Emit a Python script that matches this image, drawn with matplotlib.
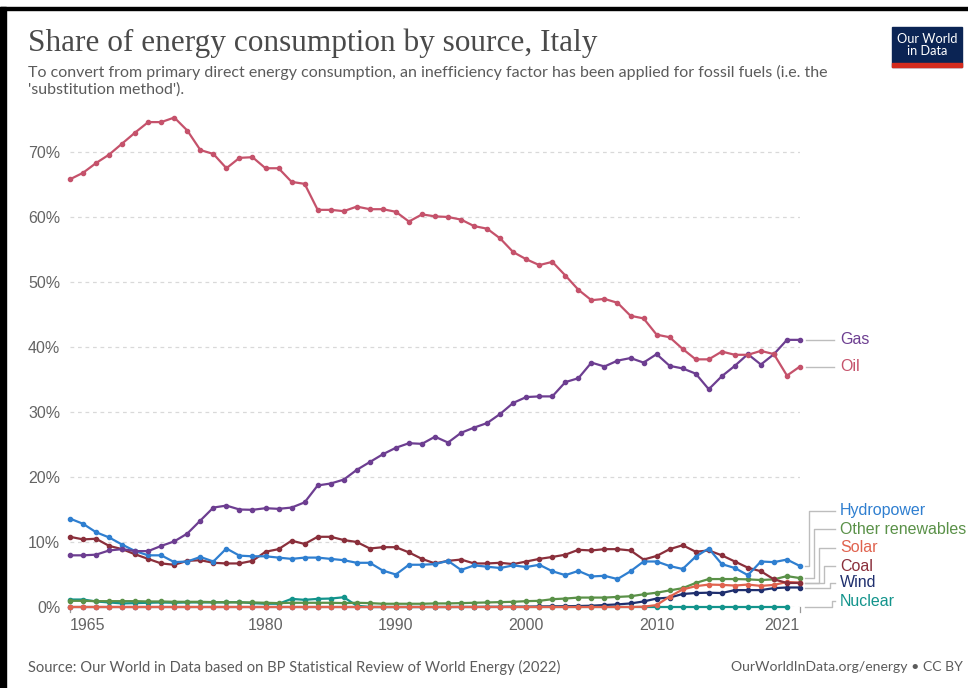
"""Share of energy consumption by source, Italy (OWID style line chart)."""
import numpy as np
import matplotlib.pyplot as plt
from matplotlib import transforms
from matplotlib.patches import Rectangle

W, H = 968, 688

years = np.arange(1965, 2022)

oil = [65.8, 66.8, 68.3, 69.6, 71.3, 73.0, 74.6, 74.6, 75.3, 73.3,
       70.3, 69.7, 67.5, 69.1, 69.2, 67.5, 67.5, 65.4, 65.1, 61.1,
       61.1, 60.9, 61.6, 61.2, 61.2, 60.8, 59.3, 60.4, 60.1, 60.0,
       59.6, 58.6, 58.2, 56.7, 54.6, 53.5, 52.6, 53.1, 51.0, 48.8,
       47.2, 47.4, 46.8, 44.8, 44.4, 41.9, 41.5, 39.7, 38.1, 38.1,
       39.3, 38.8, 38.8, 39.4, 38.9, 35.6, 37.0]
gas = [7.95, 7.95, 8.05, 8.7, 8.9, 8.6, 8.6, 9.4, 10.1, 11.3,
       13.3, 15.3, 15.6, 15.0, 14.95, 15.2, 15.1, 15.3, 16.1, 18.7,
       19.0, 19.6, 21.1, 22.3, 23.5, 24.5, 25.2, 25.1, 26.2, 25.3,
       26.8, 27.6, 28.3, 29.7, 31.4, 32.3, 32.4, 32.4, 34.6, 35.2,
       37.6, 37.0, 37.9, 38.3, 37.6, 38.9, 37.1, 36.7, 35.9, 33.5,
       35.5, 37.1, 38.9, 37.3, 38.9, 41.1, 41.1]
hydro = [13.6, 12.8, 11.5, 10.7, 9.6, 8.6, 7.95, 7.95, 6.9, 7.0,
         7.7, 7.0, 9.0, 7.9, 7.8, 7.8, 7.6, 7.4, 7.6, 7.6,
         7.4, 7.2, 6.8, 6.8, 5.6, 5.0, 6.5, 6.5, 6.6, 7.1,
         5.7, 6.4, 6.2, 6.0, 6.4, 6.15, 6.5, 5.5, 4.9, 5.55,
         4.7, 4.8, 4.3, 5.5, 7.0, 7.0, 6.3, 5.85, 7.75, 9.0,
         6.6, 6.0, 4.9, 7.0, 6.9, 7.3, 6.3]
coal = [10.8, 10.4, 10.5, 9.4, 8.9, 8.1, 7.4, 6.7, 6.5, 7.1,
        7.2, 6.8, 6.7, 6.7, 7.1, 8.5, 8.9, 10.2, 9.7, 10.8,
        10.8, 10.3, 10.0, 9.0, 9.2, 9.2, 8.4, 7.4, 6.7, 7.1,
        7.3, 6.7, 6.7, 6.8, 6.6, 7.0, 7.4, 7.7, 8.05, 8.8,
        8.7, 8.9, 8.9, 8.7, 7.3, 7.85, 8.9, 9.5, 8.5, 8.7,
        7.95, 7.0, 6.05, 5.5, 4.25, 3.7, 3.7]
other_renew = [0.95, 0.95, 0.9, 0.9, 0.9, 0.9, 0.85, 0.85, 0.8, 0.8,
               0.8, 0.75, 0.75, 0.7, 0.7, 0.65, 0.6, 0.65, 0.65, 0.65,
               0.65, 0.6, 0.65, 0.6, 0.5, 0.5, 0.5, 0.5, 0.55, 0.55,
               0.6, 0.65, 0.7, 0.75, 0.8, 0.9, 0.95, 1.2, 1.3, 1.45,
               1.45, 1.45, 1.55, 1.65, 1.95, 2.2, 2.55, 2.9, 3.7, 4.3,
               4.3, 4.3, 4.25, 4.15, 4.25, 4.75, 4.45]
solar = [0.0] * 44 + [0.05, 0.3, 1.6, 2.7, 3.2, 3.45, 3.4, 3.3, 3.45,
                      3.25, 3.4, 3.85, 3.75]
wind = [0.0] * 30 + [0.01, 0.01, 0.03, 0.03, 0.05,
                     0.05, 0.08, 0.1, 0.12, 0.15, 0.2, 0.3, 0.4, 0.55, 0.85,
                     1.3, 1.45, 2.0, 2.15, 2.2, 2.15, 2.6, 2.6, 2.6, 2.9,
                     3.0, 3.0]
nuclear = [1.15, 1.15, 0.85, 0.7, 0.55, 0.6, 0.65, 0.7, 0.65, 0.7,
           0.7, 0.7, 0.7, 0.75, 0.6, 0.5, 0.5, 1.25, 1.1, 1.25,
           1.3, 1.5, 0.2] + [0.0] * 33 + [np.nan]

# name, values, colour, label y (%), connector elbow (px)
series = [
    ("Wind", wind, "#1f2f6e", 3.7, 830),
    ("Nuclear", nuclear, "#13948c", 0.9, 832),
    ("Other renewables", other_renew, "#5a9148", 12.0, 814),
    ("Solar", solar, "#e0634f", 9.1, 819),
    ("Coal", coal, "#8a2f3b", 6.3, 824),
    ("Hydropower", hydro, "#2f7fd0", 14.8, 809),
    ("Gas", gas, "#6d3e91", 40.9, None),
    ("Oil", oil, "#c5526b", 36.9, None),
]

SANS = ["Liberation Sans", "DejaVu Sans"]
LATO = ["Lato", "DejaVu Sans"]
GREY = "#646464"

fig = plt.figure(figsize=(W / 100, H / 100), dpi=100)
ax = fig.add_axes([70 / W, 81 / H, 730 / W, 494 / H])

for name, vals, col, _, _ in series:
    ax.plot(years, vals, "-o", color=col, lw=1.6, ms=3.0, clip_on=False,
            zorder=3)

ax.set_xlim(1965, 2021)
ax.set_ylim(0, 76)
ax.set_yticks(range(0, 71, 10))
ax.set_yticklabels([f"{v}%" for v in range(0, 71, 10)], family=SANS,
                   fontsize=11.5, color=GREY)
ax.grid(axis="y", color="#d9d9d9", lw=0.9, ls=(0, (3, 3)))
ax.tick_params(axis="y", length=0, pad=7)
ax.set_xticks([1965, 1980, 1990, 2000, 2010, 2021])
ax.set_xticklabels(["1965", "1980", "1990", "2000", "2010", "2021"],
                   family=SANS, fontsize=11.5, color=GREY)
for lab, ha in zip(ax.get_xticklabels(), ["left"] + ["center"] * 4 + ["right"]):
    lab.set_ha(ha)
ax.tick_params(axis="x", length=0, pad=8)
for x in (1965, 2021):
    ax.plot([x, x], [0, -0.8], color="#999999", lw=0.9, clip_on=False)
for s in ax.spines.values():
    s.set_visible(False)

# right-hand labels with elbow connectors
tr = transforms.blended_transform_factory(ax.transAxes, ax.transData)
def px(x):
    return (x - 70) / 730

for name, vals, col, ly, elbow in series:
    y0 = vals[-1] if not np.isnan(vals[-1]) else 0.0
    if elbow is None:
        xs, ys = [px(806), px(834)], [y0, y0]
    else:
        xs = [px(805), px(elbow), px(elbow), px(835)]
        ys = [y0, y0, ly, ly]
    ax.plot(xs, ys, color="#bdbdbd", lw=1, transform=tr, clip_on=False)
    ax.text(px(840), ly if elbow else y0, name, transform=tr, color=col,
            family=SANS, fontsize=11.5, va="center", ha="left")

# titles
fig.text(28 / W, 1 - 43 / H, "Share of energy consumption by source, Italy",
         family=["Liberation Serif", "DejaVu Serif"], fontsize=22.5,
         color="#4a4a4a", va="center", ha="left")
fig.text(28 / W, 1 - 72 / H,
         "To convert from primary direct energy consumption, an inefficiency "
         "factor has been applied for fossil fuels (i.e. the",
         family=LATO, fontsize=11.5, color="#5b5b5b", va="center", ha="left")
fig.text(28 / W, 1 - 90 / H, "'substitution method').",
         family=LATO, fontsize=11.5, color="#5b5b5b", va="center", ha="left")
fig.text(28 / W, 1 - 667 / H,
         "Source: Our World in Data based on BP Statistical Review of World "
         "Energy (2022)", family=LATO, fontsize=10.6,
         color="#5b5b5b", va="center", ha="left")
fig.text(963 / W, 1 - 667 / H, "OurWorldInData.org/energy • CC BY",
         family=LATO, fontsize=10.1, color="#5b5b5b", va="center", ha="right")

# logo
fig.patches.append(Rectangle((892 / W, 1 - 67 / H), 70 / W, 40 / H,
                             transform=fig.transFigure, color="#0b2454"))
fig.patches.append(Rectangle((892 / W, 1 - 67 / H), 70 / W, 4 / H,
                             transform=fig.transFigure, color="#d42b1e"))
fig.text(927 / W, 1 - 45 / H, "Our World\nin Data", family=LATO,
         fontsize=9.2, color="white", ha="center", va="center", linespacing=1.0)

# screenshot frame (left and top edges)
fig.patches.append(Rectangle((0, 0), 6 / W, 1 - 7 / H,
                             transform=fig.transFigure, color="black"))
fig.patches.append(Rectangle((0, 1 - 10 / H), 1, 3 / H,
                             transform=fig.transFigure, color="black"))

fig.savefig("out.png", dpi=100)
